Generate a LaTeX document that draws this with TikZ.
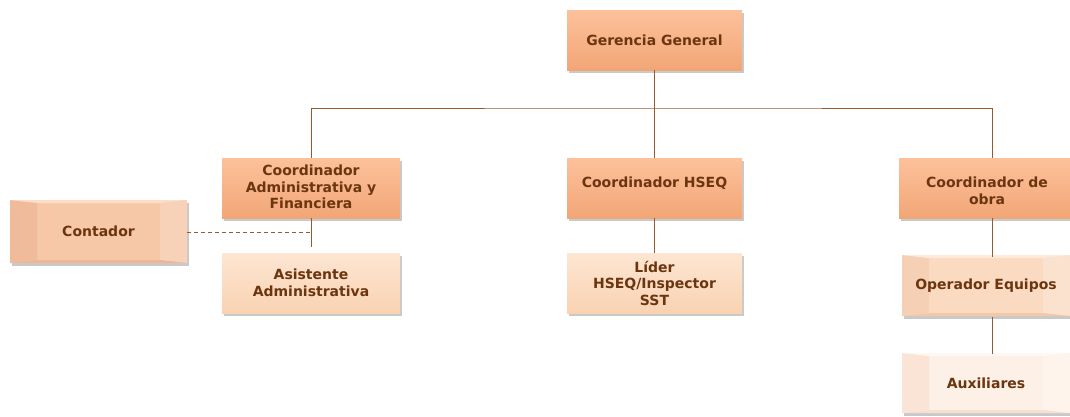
\documentclass[tikz,border=0pt]{standalone}
\usepackage{fontspec}
\setmainfont{DejaVu Sans}
\usetikzlibrary{shadows}
\definecolor{txt}{HTML}{6B3510}
\definecolor{ln}{HTML}{985A2C}
\definecolor{orT}{HTML}{FCC19B}
\definecolor{orB}{HTML}{F2A676}
\definecolor{lgT}{HTML}{FDE6D2}
\definecolor{lgB}{HTML}{F9D2B2}
\definecolor{cA}{HTML}{F6C8A8}\definecolor{cL}{HTML}{F0BB9A}\definecolor{cR}{HTML}{F8D2B8}\definecolor{cT}{HTML}{FBDDC8}\definecolor{cB}{HTML}{EDB696}
\definecolor{oA}{HTML}{FADBC2}\definecolor{oL}{HTML}{F6D0B4}\definecolor{oR}{HTML}{FBE2CE}\definecolor{oT}{HTML}{FDEADB}\definecolor{oB}{HTML}{F3C8A8}
\definecolor{xA}{HTML}{FDF0E6}\definecolor{xL}{HTML}{FAE4D6}\definecolor{xR}{HTML}{FEF4EC}\definecolor{xT}{HTML}{FEF7F2}\definecolor{xB}{HTML}{F8E0D0}
\begin{document}
\begin{tikzpicture}[x=1pt,y=-1pt,
  base/.style={rectangle, draw=none, text=txt, font=\bfseries\fontsize{14}{16.5}\selectfont,
    align=center, inner sep=0pt,
    drop shadow={shadow xshift=2pt, shadow yshift=-2.5pt, opacity=0.3, fill=black!70}},
  dark/.style={base, top color=orT, bottom color=orB},
  light/.style={base, top color=lgT, bottom color=lgB},
  lbl/.style={text=txt, font=\bfseries\fontsize{14}{16.5}\selectfont, align=center, inner sep=0pt, anchor=north},
  bevel/.style n args={5}{base, fill=#1, path picture={
    \fill[#2] (path picture bounding box.north west) -- ([xshift=27pt,yshift=-3pt]path picture bounding box.north west)
      -- ([xshift=27pt,yshift=3pt]path picture bounding box.south west) -- (path picture bounding box.south west) -- cycle;
    \fill[#3] (path picture bounding box.north east) -- ([xshift=-27pt,yshift=-3pt]path picture bounding box.north east)
      -- ([xshift=-27pt,yshift=3pt]path picture bounding box.south east) -- (path picture bounding box.south east) -- cycle;
    \fill[#4] (path picture bounding box.north west) -- ([xshift=27pt,yshift=-3pt]path picture bounding box.north west)
      -- ([xshift=-27pt,yshift=-3pt]path picture bounding box.north east) -- (path picture bounding box.north east) -- cycle;
    \fill[#5] (path picture bounding box.south west) -- ([xshift=27pt,yshift=3pt]path picture bounding box.south west)
      -- ([xshift=-27pt,yshift=3pt]path picture bounding box.south east) -- (path picture bounding box.south east) -- cycle;
  }},
  conn/.style={draw=ln, line width=0.9pt}
]
\useasboundingbox (0,0) rectangle (1070,416);

\node[dark, minimum width=175pt, minimum height=60pt] (gg) at (654.5,40) {Gerencia General};

\node[dark, minimum width=178pt, minimum height=60pt] (ca) at (311,188) {};
\node[lbl] (caT) at (311,165) {Coordinador\\Administrativa y\\Financiera};

\node[dark, minimum width=175pt, minimum height=60pt] (ch) at (654.5,188) {};
\node[lbl] (chT) at (654.5,177) {Coordinador HSEQ};

\node[dark, minimum width=172pt, minimum height=60pt] (co) at (985,188) {};
\node[lbl] (coT) at (987,177) {Coordinador de\\obra};

\node[bevel={cA}{cL}{cR}{cT}{cB}, minimum width=177pt, minimum height=63pt] (ct) at (98.5,231.5) {Contador};

\node[light, minimum width=178pt, minimum height=60pt] (as) at (311,283) {Asistente\\Administrativa};
\node[light, minimum width=175pt, minimum height=60pt] (li) at (654.5,283) {Líder\\HSEQ/Inspector\\SST};

\node[bevel={oA}{oL}{oR}{oT}{oB}, minimum width=168pt, minimum height=61pt] (op) at (986,285.5) {Operador Equipos};
\node[bevel={xA}{xL}{xR}{xT}{xB}, minimum width=168pt, minimum height=60pt] (au) at (986,383) {\raisebox{-10pt}{Auxiliares}};

\coordinate (bar) at (654.5,108);
\coordinate (aj) at (311,247);
\coordinate (aj2) at (311,232);
\coordinate (ob1) at (992,108);
\coordinate (ob2) at (992,218);
\coordinate (ob3) at (992,257);
\coordinate (ob4) at (992,317);
\coordinate (ob5) at (992,354);

\draw[conn] (gg.south) -- (bar);
\draw[conn] (ca.north) |- (bar) -- (ob1) -- (ob1 |- co.north);
\draw[conn] (bar) -- (ch.north);
\draw[conn] (ca.south) -- (aj);
\draw[conn] (ch.south) -- (li.north);
\draw[conn] (ob2) -- (ob3);
\draw[conn] (ob4) -- (ob5);
\draw[conn, dash pattern=on 4pt off 3pt] (ct.east |- aj2) -- (aj2);
\end{tikzpicture}
\end{document}
